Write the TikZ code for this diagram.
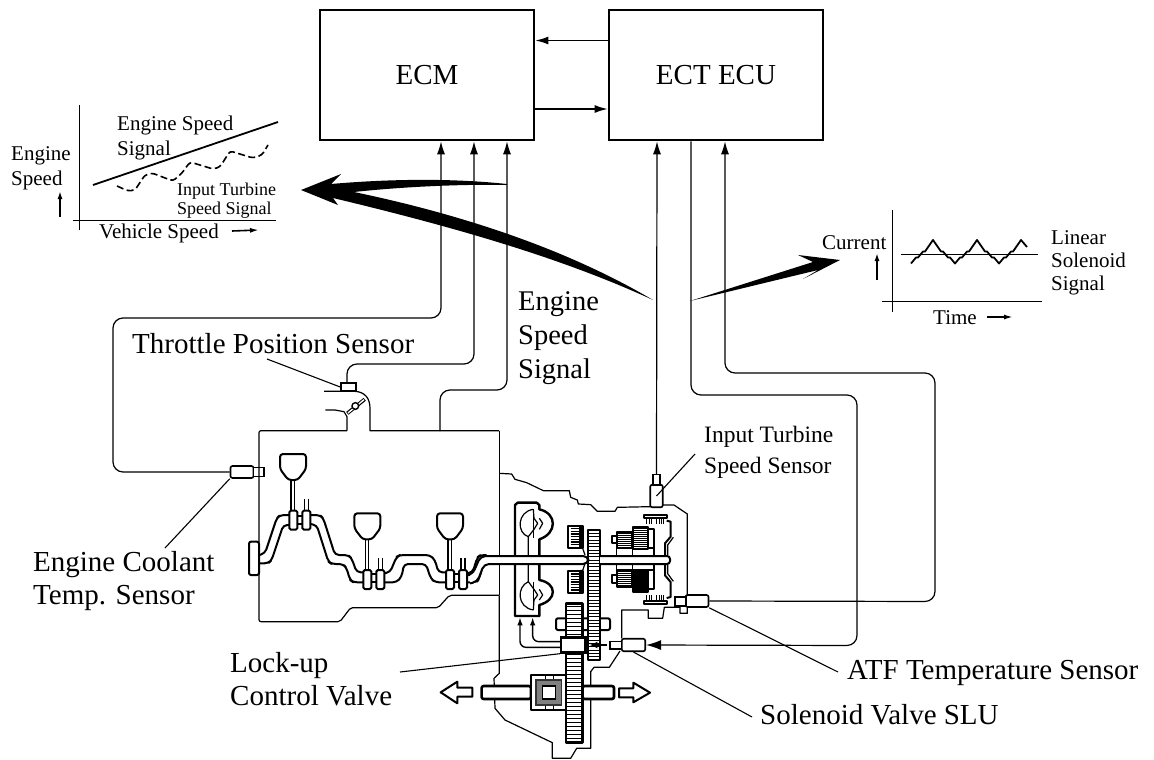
\documentclass[tikz,border=0pt]{standalone}
\usepackage{fontspec}
\setmainfont{Liberation Serif}
\usetikzlibrary{arrows.meta}
\tikzset{
  x=1pt,y=-1pt,
  wire/.style={line width=1.2pt,rounded corners=10pt},
  part/.style={line width=2pt,line join=round},
  thin part/.style={line width=1.2pt,line join=round},
  ctl/.style={draw,line width=2.6pt,fill=white,minimum width=214pt,minimum height=130pt,inner sep=0pt,font=\fontsize{29}{33}\selectfont},
  tipa/.style={-{Latex[length=13pt,width=8pt]}},
  lab/.style={inner sep=0pt,anchor=west,align=left,font=\fontsize{29}{32.5}\selectfont},
  smalllab/.style={inner sep=0pt,anchor=west,align=left,font=\fontsize{21}{25}\selectfont},
  tinylab/.style={inner sep=0pt,anchor=west,align=left,font=\fontsize{18}{19.5}\selectfont},
  sens/.style={draw,line width=1.6pt,rounded corners=2pt,fill=white,inner sep=0pt},
  axisline/.style={line width=1pt},
  zone/.style={shift={(#1)},x=0.33333pt,y=-0.33333pt},
}
\newcommand{\stairup}{-- ++(5,-6) -- ++(2,0) -- ++(5,-6) -- ++(2,0) -- ++(8,-11.5)}
\newcommand{\stairdn}{-- ++(8,11.5) -- ++(2,0) -- ++(5,6) -- ++(2,0) -- ++(5,6)}
\newcommand{\planet}{%
  % clutch pack
  \draw[part,fill=white] (205,138) rectangle (248,203);
  \foreach \yy in {146,154,...,198}{\draw[line width=1.2pt] (212,\yy) -- (238,\yy);}
  \fill (238,140) rectangle (248,202);
  \draw[thin part] (228,203) -- (248,205) -- (255,225);
  % planet gears
  \draw[part,fill=white] (335,168) rectangle (350,190);
  \draw[part,fill=white] (350,155) rectangle (395,205);
  \foreach \yy in {160,166,...,202}{\draw[line width=0.9pt] (352,\yy) -- (393,\yy);}
  \draw[part,fill=white] (445,148) rectangle (462,205);
  \draw[part,fill=white] (398,140) rectangle (445,207);
  \foreach \yy in {146,152,...,204}{\draw[line width=1.1pt] (400,\yy) -- (443,\yy);}
  \draw[thin part] (350,205) -- (350,225);
  \draw[thin part] (398,207) -- (398,225);
  \draw[thin part] (462,205) -- (462,225);
  % drum
  \draw[part] (495,225) -- (495,190) -- (512,170) -- (512,125) -- (500,122);
  \draw[thin part] (503,225) -- (503,195) -- (520,172);
  \draw[part] (432,105) -- (500,105) -- (500,114) -- (432,114) -- cycle;
  \foreach \xx in {440,447,454,470,477,484,491}{\draw[line width=1pt] (\xx,114) -- (\xx,132);}
}
\begin{document}
\begin{tikzpicture}[line cap=butt]
\useasboundingbox (0,0) rectangle (1154,760);

% ---------- control units
\node[ctl] (ecm) at (427,75) {ECM};
\node[ctl] (ect) at (716,75) {ECT ECU};
\coordinate (hA) at (0,40.5);
\coordinate (hB) at (0,109);
\draw[line width=1.6pt,tipa] (ect.west |- hA) -- (ecm.east |- hA);
\draw[line width=1.6pt,tipa] (ecm.east |- hB) -- (ect.west |- hB);

% ---------- sensors
\node[sens,minimum width=23pt,minimum height=12pt] (ects) at (242,472) {};
\draw[line width=1.6pt,fill=white] (253.5,467.5) rectangle (264,476.5);
\node[draw,line width=1.6pt,fill=white,inner sep=0pt,minimum width=15pt,minimum height=8pt] (tps) at (348.5,387) {};
\node[sens,minimum width=12.5pt,minimum height=22.5pt] (iss) at (656.5,496) {};
\draw[line width=1.6pt,fill=white] (652.8,484.7) rectangle (660,474.5);
\coordinate (isstop) at (656.5,474.5);
\node[sens,minimum width=23pt,minimum height=12pt] (atf) at (697,601) {};
\draw[line width=1.6pt,fill=white] (675,597) rectangle (685.7,606);
\node[sens,minimum width=23.5pt,minimum height=12.5pt] (slu) at (633.5,645) {};
\draw[line width=1.6pt,fill=white] (610,641.5) rectangle (621.5,649);

% ---------- wires
\coordinate (w1) at (441,0);
\coordinate (w2) at (474,0);
\coordinate (w3) at (507,0);
\coordinate (w4) at (657,0);
\coordinate (w5) at (691,0);
\coordinate (w6) at (725,0);
\coordinate (blocktop) at (440,431);
\draw[wire,tipa] (ects.west) -- (113,472) -- (113,318) -- (441,318) -- (ecm.south -| w1);
\draw[wire,tipa] (tps.north -| 347,0) -- (347,364) -- (474,364) -- (ecm.south -| w2);
\draw[wire,tipa] (blocktop) -- (440,390) -- (507,390) -- (ecm.south -| w3);
\draw[line width=1.2pt,tipa] (isstop) -- (ect.south -| w4);
\draw[wire,-{Latex[length=15pt,width=10pt]}] (ect.south -| w5) -- (691,395) -- (857,395) -- (857,645.5) -- (slu.east);
\draw[wire,tipa] (atf.east) -- (935,601.5) -- (935,373) -- (725,373) -- (ect.south -| w6);

% ---------- leader lines
\coordinate (lTPS) at (267,359);
\coordinate (lECT) at (165,548);
\coordinate (lLock) at (400,672);
\coordinate (lISS) at (695,454);
\coordinate (lATF) at (838,672);
\coordinate (lSLU) at (752,717);
\draw[line width=1.1pt] (lTPS) -- (tps.west);
\draw[line width=1.1pt] (lECT) -- (ects.south west);
\draw[line width=1.1pt] (lISS) -- (iss.center);
\draw[line width=1.1pt] (lATF) -- (atf.south east);
\draw[line width=1.1pt] (lSLU) -- (slu.south);

% ---------- engine block
\begin{scope}[zone={220,370}]
  \draw[thin part] (381,182) -- (381,140) -- (372,125) -- (345,120) -- (316,120);
  \draw[thin part] (312,64) -- (405,64) .. controls (435,66) and (450,85) .. (450,115) -- (450,182) -- (837,182);
  \draw[thin part,rounded corners=2pt] (381,182) -- (117,182) -- (117,755) -- (360,755) -- (392,713) -- (655,713) -- (688,676) -- (837,676);
  \draw[line width=3.6pt] (382,130) -- (434,88);
  \draw[line width=1.4pt,white] (384,129) -- (432,89);
  \draw[line width=1.4pt,fill=white] (406,108) circle (10);
  % flywheel
  \draw[part,fill=white,rounded corners=2pt] (87,515) rectangle (117,615);
  % crank shaft
  \draw[part,rounded corners=4pt] (118,555) -- (135,550) -- (170,445) -- (180,435) -- (208,435);
  \draw[part,rounded corners=4pt] (118,580) -- (145,580) -- (155,570) -- (190,465) -- (208,465);
  \draw[part] (232,438) -- (247,438) (232,462) -- (247,462);
  \draw[part,rounded corners=4pt] (270,435) -- (300,435) -- (310,445) -- (345,555) -- (385,555) -- (395,565) -- (410,607) -- (430,607);
  \draw[part,rounded corners=4pt] (270,462) -- (290,465) -- (325,575) -- (335,582) -- (370,582) -- (380,595) -- (390,630) -- (400,637) -- (430,637);
  \draw[part] (453,612) -- (470,612) (453,637) -- (470,637);
  \draw[part,rounded corners=4pt] (493,610) -- (510,607) -- (530,560) -- (540,555) -- (630,555) -- (645,570) -- (655,607) -- (678,607);
  \draw[part,rounded corners=4pt] (493,637) -- (530,637) -- (545,620) -- (552,582) -- (618,582) -- (632,625) -- (645,637) -- (678,637);
  \draw[part] (702,612) -- (718,612) (702,637) -- (718,637);
  \draw[part,rounded corners=4pt] (742,610) -- (758,607) -- (772,562) -- (782,555) -- (800,555);
  \draw[part,rounded corners=4pt] (742,637) -- (770,637) -- (778,625) -- (790,582) -- (800,582);
  % three cylinders
  \foreach \px/\py/\jx/\jy in {180/252/208/422, 403/430/430/600, 651/430/678/600}{
    \draw[line width=1.3pt] ({\px+33},{\py+78}) -- ({\px+33},\jy);
    \draw[line width=1.3pt] ({\px+43},{\py+78}) -- ({\px+43},\jy);
    \draw[part,rounded corners=3pt,fill=white] (\px,\py) -- ({\px+78},\py) -- ({\px+78},{\py+45}) -- ({\px+53},{\py+78}) -- ({\px+25},{\py+78}) -- (\px,{\py+45}) -- cycle;
    \draw[part,fill=white,rounded corners=1.5pt] (\jx,\jy) rectangle ({\jx+24},{\jy+57});
    \draw[part,fill=white,rounded corners=1.5pt] ({\jx+39},\jy) rectangle ({\jx+63},{\jy+57});
    \draw[line width=1.2pt] ({\jx+45},\jy) -- ({\jx+45},{\jy-35}) ({\jx+57},\jy) -- ({\jx+57},{\jy-35});
  }
\end{scope}

% ---------- transmission
\begin{scope}[zone={470,370}]
  % case outline
  \draw[thin part] (88,676) -- (88,182);
  \draw[thin part] (88,310) -- (125,312) -- (135,328) -- (170,338) -- (220,362) -- (298,362) -- (302,382) -- (322,390) -- (325,402) -- (362,404) -- (382,424) -- (435,424) -- (442,412) -- (540,410);
  \draw[thin part] (578,405) -- (612,405) -- (652,432) -- (652,678);
  \draw[thin part] (652,713) -- (652,730) -- (630,730) -- (630,712) -- (583,712) -- (578,745) -- (535,745) -- (535,720) -- (455,720) -- (455,805);
  \draw[thin part] (450,843) -- (418,892) -- (372,892) -- (362,905) -- (362,1135) -- (320,1135) -- (302,1165) -- (247,1165) -- (247,1118) -- (105,1050) -- (75,1015) -- (72,925) -- (88,910) -- (88,676);
  % torque converter
  \draw[part,line width=2.4pt] (135,555) -- (135,405) -- (143,398) -- (200,398) -- (208,405) -- (208,418) .. controls (262,430) and (262,490) .. (208,508) -- (208,555);
  \draw[part,line width=2.4pt] (135,585) -- (135,738) -- (208,738) -- (208,705) .. controls (262,690) and (262,640) .. (208,630) -- (208,585);
  \draw[thin part] (190,418) .. controls (140,425) and (140,490) .. (175,500) -- (175,555);
  \draw[thin part] (190,418) -- (190,505);
  \draw[thin part] (190,418) -- (192,445) -- (203,460) -- (192,478) -- (175,500);
  \draw[thin part] (208,445) -- (218,460) -- (208,478);
  \draw[thin part] (190,720) .. controls (140,712) and (140,650) .. (175,635) -- (175,585);
  \draw[thin part] (190,720) -- (190,635);
  \draw[thin part] (190,720) -- (192,690) -- (203,675) -- (192,658) -- (175,635);
  \draw[thin part] (208,690) -- (218,675) -- (208,658);
  % back shaft
  \draw[part,fill=white,rounded corners=2pt] (258,745) rectangle (420,780);
  % front gear rung wheel
  \draw[part,fill=white] (355,480) rectangle (390,870);
  \foreach \yy in {490,500,...,860}{\draw[line width=0.9pt] (355,\yy) -- (390,\yy);}
  % main shaft
  \draw[part,fill=white,rounded corners=5pt] (0,640) -- (22,636) -- (42,582) -- (355,582) -- (355,558) -- (32,558) -- (8,612) -- (0,614);
  \draw[part,fill=white,rounded corners=3pt] (390,558) -- (600,558) -- (600,582) -- (390,582);
  \draw[part] (88,558) -- (135,558) (88,582) -- (135,582);
  % output gear
  \draw[part,line width=2.6pt,fill=white] (288,700) rectangle (338,1118);
  \foreach \yy in {710,722,...,1110}{\draw[line width=0.9pt] (288,\yy) -- (338,\yy);}
  % lower shafts
  \draw[part,line width=2.6pt,fill=white,rounded corners=2pt] (35,948) rectangle (183,987);
  \draw[part,line width=2.6pt,fill=white,rounded corners=2pt] (338,948) rectangle (432,987);
  \draw[part,line width=2.6pt,fill=white] (183,915) rectangle (288,1020);
  \draw[line width=0.8pt] (225,915) -- (225,1020) (250,915) -- (250,1020);
  \fill[black!50] (198,930) rectangle (275,1005);
  \draw[line width=1.4pt,black!80] (198,930) rectangle (275,1005);
  \draw[line width=1.4pt,fill=white] (217,948) rectangle (257,987);
  % open arrow, right
  \draw[part,fill=white] (447,955) -- (490,955) -- (490,938) -- (540,968) -- (490,997) -- (490,982) -- (447,982) -- cycle;
  % lock-up valve
  \node[draw,line width=2.4pt,fill=white,inner sep=0pt,minimum width=24.5pt,minimum height=15pt] (luv) at (310,825) {};
  \draw[line width=1.4pt,-{Latex[length=8pt,width=5.5pt]},rounded corners=6pt] (luv.west |- 0,832) -- (150,832) -- (150,742);
  \draw[line width=1.4pt,-{Latex[length=8pt,width=5.5pt]},rounded corners=6pt] (luv.west |- 0,815) -- (188,815) -- (188,742);
  \draw[-{Latex[length=8pt,width=7pt]},line width=2.6pt] (412,825) -- (358,825);
\end{scope}
\draw[line width=1.1pt] (lLock) -- (luv.south west);
\begin{scope}[zone={500,480}]
  \planet
\end{scope}
\begin{scope}[shift={(500,638.67)},x=0.33333pt,y=0.33333pt]
  \planet
\end{scope}

% open arrow, left
\begin{scope}[zone={400,660}]
  \draw[part,fill=white] (217,83) -- (172,83) -- (172,65) -- (122,97) -- (172,130) -- (172,110) -- (217,110) -- cycle;
\end{scope}

% ---------- thick signal arrows
\fill (301,190) -- (341,174) -- (331,184) .. controls (400,178) and (460,179) .. (507,184)
  -- (507,185) .. controls (460,184) and (400,187) .. (354,192)
  .. controls (450,212) and (560,245) .. (653,300)
  .. controls (560,257) and (450,226) .. (333,198) -- (338,205) -- cycle;
\fill (690,301) -- (813,262) -- (798,255) -- (840,260) -- (803,279) -- (818,270) -- cycle;

% ---------- graph 1
\draw[axisline] (79,105) -- (79,230);
\draw[axisline] (73,220) -- (276,220);
\draw[line width=1.8pt] (93,185) -- (278,122);
\draw[line width=1.6pt,dash pattern=on 7pt off 3.5pt,rounded corners=3pt] (117,186) -- (128,191) -- (135,190) -- (145,175) -- (152,173) -- (173,181) -- (182,173) -- (190,162) -- (213,169) -- (220,167) -- (230,151) -- (253,158) -- (262,155) -- (268,145);
\draw[line width=1.6pt,-{Latex[length=8pt,width=5pt]}] (60,217) -- (60,191);
\draw[line width=1.6pt,-{Latex[length=9pt,width=5pt]}] (232,231) -- (259,230);
\node[smalllab] (gl1) at (11,168.5) {Engine\\Speed};
\node[smalllab] (gl2) at (117,137.5) {Engine Speed\\Signal};
\node[tinylab] (gl3) at (177,200.5) {Input Turbine\\Speed Signal};
\node[smalllab] (gl4) at (99,233) {Vehicle Speed};

% ---------- graph 2
\draw[axisline] (892,210) -- (892,312);
\draw[axisline] (882,301) -- (1042,301);
\draw[line width=1pt] (901,254) -- (1038,254);
\draw[line width=1.8pt,line join=round] (911,263.5) \stairup \stairdn \stairup \stairdn \stairup -- ++(6,7);
\draw[line width=1.8pt,-{Latex[length=8pt,width=5pt]}] (877,280) -- (877,253);
\draw[line width=1.6pt,-{Latex[length=9pt,width=5pt]}] (987,317) -- (1013,317);
\node[smalllab] (gr1) at (822,243) {Current};
\node[smalllab] (gr2) at (933,318) {Time};
\node[smalllab,font=\fontsize{21}{23}\selectfont] (gr3) at (1051,263) {Linear\\Solenoid\\Signal};

% ---------- large labels
\node[lab] (t1) at (132,344) {Throttle Position Sensor};
\node[lab,font=\fontsize{28.5}{34}\selectfont] (t2) at (518,338) {Engine\\Speed\\Signal};
\node[lab,font=\fontsize{23.5}{31}\selectfont] (t3) at (704,452) {Input Turbine\\Speed Sensor};
\node[lab] (t4) at (33,581) {Engine Coolant\\Temp. Sensor};
\node[lab] (t5) at (230,679) {Lock-up\\Control Valve};
\node[lab] (t6) at (847,673) {ATF Temperature Sensor};
\node[lab] (t7) at (760,715) {Solenoid Valve SLU};
\end{tikzpicture}
\end{document}
